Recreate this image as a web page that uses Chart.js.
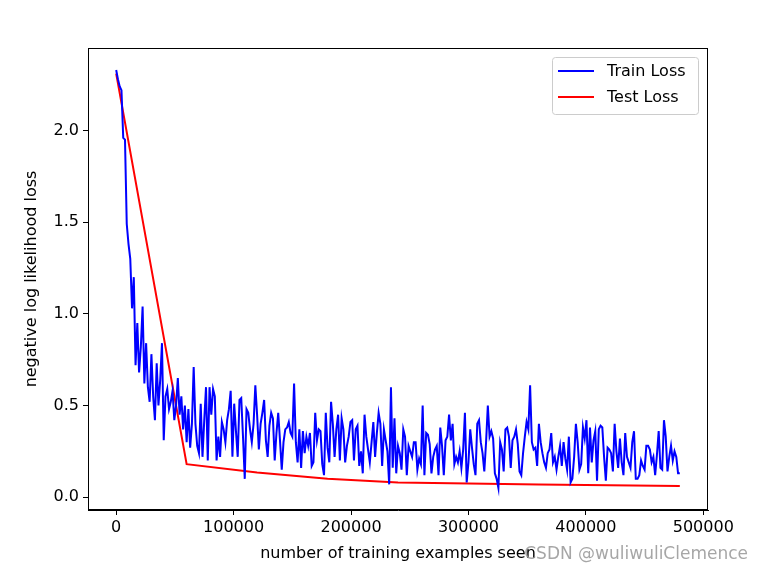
<!DOCTYPE html>
<html>
<head>
<meta charset="utf-8">
<script src="https://cdn.jsdelivr.net/npm/chart.js@4.4.0/dist/chart.umd.min.js"></script>
<style>
  html, body { margin: 0; padding: 0; background: #fff; }
  #wrap { width: 762px; height: 572px; }
</style>
</head>
<body>
<div id="wrap"><canvas id="lossChart" width="762" height="572"></canvas></div>
<script>
// Train loss, one reading every 1500 training examples (0 .. 480000)
const trainLoss = [
    2.33, 2.28, 2.24, 2.22, 1.96, 1.95, 1.49, 1.38, 1.30, 1.03,
    1.20, 0.72, 0.95, 0.68, 0.82, 1.04, 0.62, 0.84, 0.60, 0.52,
    0.78, 0.55, 0.42, 0.73, 0.50, 0.64, 0.84, 0.31, 0.55, 0.59,
    0.48, 0.52, 0.58, 0.42, 0.50, 0.65, 0.45, 0.55, 0.37, 0.50,
    0.30, 0.48, 0.27, 0.40, 0.71, 0.40, 0.28, 0.24, 0.51, 0.22,
    0.42, 0.60, 0.20, 0.60, 0.45, 0.59, 0.55, 0.20, 0.33, 0.22,
    0.41, 0.37, 0.30, 0.42, 0.48, 0.58, 0.22, 0.51, 0.36, 0.22,
    0.53, 0.54, 0.33, 0.10, 0.48, 0.46, 0.37, 0.30, 0.40, 0.61,
    0.45, 0.26, 0.40, 0.46, 0.53, 0.31, 0.22, 0.39, 0.46, 0.43,
    0.20, 0.35, 0.46, 0.31, 0.15, 0.30, 0.37, 0.38, 0.41, 0.35,
    0.33, 0.62, 0.30, 0.19, 0.37, 0.16, 0.36, 0.24, 0.33, 0.28,
    0.35, 0.17, 0.19, 0.46, 0.31, 0.37, 0.36, 0.18, 0.12, 0.46,
    0.27, 0.19, 0.52, 0.40, 0.22, 0.37, 0.45, 0.20, 0.43, 0.37,
    0.19, 0.28, 0.33, 0.41, 0.42, 0.20, 0.37, 0.39, 0.17, 0.25,
    0.13, 0.45, 0.33, 0.26, 0.19, 0.30, 0.41, 0.22, 0.35, 0.46,
    0.40, 0.17, 0.37, 0.31, 0.25, 0.07, 0.60, 0.16, 0.43, 0.13,
    0.28, 0.24, 0.15, 0.37, 0.33, 0.12, 0.28, 0.25, 0.22, 0.30,
    0.30, 0.15, 0.21, 0.18, 0.50, 0.12, 0.35, 0.34, 0.29, 0.13,
    0.22, 0.26, 0.28, 0.12, 0.38, 0.28, 0.12, 0.31, 0.33, 0.45,
    0.31, 0.40, 0.18, 0.22, 0.19, 0.25, 0.16, 0.26, 0.46, 0.08,
    0.19, 0.37, 0.27, 0.18, 0.12, 0.40, 0.42, 0.30, 0.24, 0.14,
    0.30, 0.50, 0.33, 0.36, 0.32, 0.13, 0.10, 0.05, 0.30, 0.26,
    0.14, 0.37, 0.38, 0.33, 0.16, 0.31, 0.33, 0.37, 0.29, 0.14,
    0.12, 0.24, 0.33, 0.41, 0.37, 0.61, 0.30, 0.26, 0.27, 0.17,
    0.40, 0.30, 0.24, 0.19, 0.16, 0.24, 0.26, 0.35, 0.19, 0.22,
    0.15, 0.22, 0.28, 0.17, 0.30, 0.21, 0.15, 0.33, 0.08, 0.10,
    0.22, 0.40, 0.30, 0.15, 0.18, 0.38, 0.32, 0.42, 0.13, 0.38,
    0.19, 0.31, 0.36, 0.09, 0.37, 0.39, 0.38, 0.22, 0.09, 0.27,
    0.26, 0.24, 0.14, 0.40, 0.25, 0.16, 0.32, 0.19, 0.12, 0.35,
    0.22, 0.19, 0.16, 0.30, 0.36, 0.10, 0.10, 0.12, 0.20, 0.17,
    0.15, 0.28, 0.28, 0.26, 0.19, 0.22, 0.12, 0.23, 0.36, 0.16,
    0.15, 0.42, 0.33, 0.14, 0.22, 0.28, 0.20, 0.25, 0.22, 0.13,
    0.13
];
const trainStep = 1500;
const trainCounter = trainLoss.map((_, i) => i * trainStep);

// Test loss after each epoch
const testCounter = [0, 60000, 120000, 180000, 240000, 300000, 360000, 420000, 480000];
const testLoss = [2.31, 0.18, 0.135, 0.10, 0.08, 0.074, 0.069, 0.065, 0.061];

const xTicks = [0, 100000, 200000, 300000, 400000, 500000];
const yTicks = [0.0, 0.5, 1.0, 1.5, 2.0];

const FONT = "'DejaVu Sans', sans-serif";
const FONT_SIZE = 16;

// draws the box round the plot, the legend and the watermark
const framePlugin = {
    id: 'frame',
    afterDraw(chart) {
        const ctx = chart.ctx;
        const a = chart.chartArea;
        ctx.save();
        ctx.strokeStyle = '#000';
        ctx.lineWidth = 1;
        ctx.strokeRect(a.left + 0.5, a.top + 0.5, a.right - a.left - 1, a.bottom - a.top - 1);

        // legend in the top right corner
        const bx = a.right - 156, by = a.top + 9, bw = 146, bh = 57;
        ctx.fillStyle = 'rgba(255,255,255,0.8)';
        ctx.strokeStyle = '#cccccc';
        ctx.beginPath();
        ctx.roundRect(bx + 0.5, by + 0.5, bw, bh, 3);
        ctx.fill();
        ctx.stroke();
        ctx.font = FONT_SIZE + 'px ' + FONT;
        ctx.textBaseline = 'middle';
        chart.data.datasets.forEach((ds, i) => {
            const ly = by + 14 + i * 26;
            ctx.strokeStyle = ds.borderColor;
            ctx.lineWidth = 2;
            ctx.beginPath();
            ctx.moveTo(bx + 6, ly);
            ctx.lineTo(bx + 42, ly);
            ctx.stroke();
            ctx.fillStyle = '#000';
            ctx.fillText(ds.label, bx + 55, ly + 1);
        });

        // watermark
        ctx.font = '17px ' + FONT;
        ctx.fillStyle = 'rgba(150,150,150,0.85)';
        ctx.textBaseline = 'middle';
        ctx.textAlign = 'right';
        ctx.fillText('CSDN @wuliwuliClemence', 748, 555);
        ctx.restore();
    }
};

new Chart(document.getElementById('lossChart'), {
    type: 'line',
    data: {
        datasets: [{
            label: 'Train Loss',
            data: trainCounter.map((x, i) => ({ x: x, y: trainLoss[i] })),
            borderColor: '#0000ff',
            borderWidth: 2,
            pointRadius: 0,
            tension: 0,
            fill: false
        }, {
            label: 'Test Loss',
            data: testCounter.map((x, i) => ({ x: x, y: testLoss[i] })),
            borderColor: '#ff0000',
            borderWidth: 2,
            pointRadius: 0,
            tension: 0,
            fill: false
        }]
    },
    options: {
        responsive: false,
        animation: false,
        layout: { padding: { top: 48, right: 54, left: 0, bottom: 0 } },
        plugins: {
            legend: { display: false },
            tooltip: { enabled: false }
        },
        scales: {
            x: {
                type: 'linear',
                min: -24000,
                max: 504000,
                afterBuildTicks: axis => { axis.ticks = xTicks.map(v => ({ value: v })); },
                afterFit: scale => { scale.height = 62; },
                grid: { drawOnChartArea: false, drawTicks: true, tickLength: 5, color: '#000' },
                border: { display: true, color: '#000' },
                ticks: {
                    color: '#000',
                    padding: 3,
                    maxRotation: 0,
                    font: { family: FONT, size: FONT_SIZE },
                    callback: v => String(v)
                },
                title: {
                    display: true,
                    text: 'number of training examples seen',
                    color: '#000',
                    font: { family: FONT, size: FONT_SIZE },
                    padding: { top: 0, bottom: 9 }
                }
            },
            y: {
                type: 'linear',
                min: -0.07,
                max: 2.45,
                afterBuildTicks: axis => { axis.ticks = yTicks.map(v => ({ value: v })); },
                afterFit: scale => { scale.width = 88; },
                grid: { drawOnChartArea: false, drawTicks: true, tickLength: 5, color: '#000' },
                border: { display: true, color: '#000' },
                ticks: {
                    color: '#000',
                    padding: 4,
                    font: { family: FONT, size: FONT_SIZE },
                    callback: v => v.toFixed(1)
                },
                title: {
                    display: true,
                    text: 'negative log likelihood loss',
                    color: '#000',
                    font: { family: FONT, size: FONT_SIZE },
                    padding: { top: 22, bottom: 0 }
                }
            }
        }
    },
    plugins: [framePlugin]
});
</script>
</body>
</html>
